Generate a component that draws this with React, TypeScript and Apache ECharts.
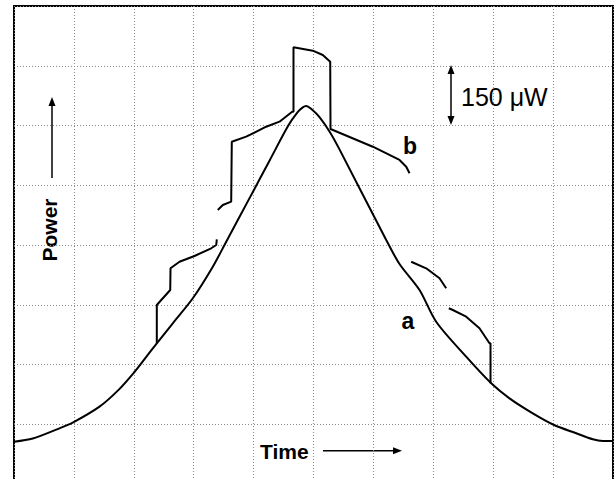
import React, { useEffect, useRef } from "react";
import * as echarts from "echarts";

// Oscilloscope screen: 10 horizontal divisions (time), 8 vertical divisions (power)
const xDivisions = [0, 10];
const yDivisions = [0, 8];

// Trace a (time div, power div)
const traceA: [number, number][] = [
  [0, 0.708], [0.314, 0.761], [0.76, 0.932], [0.98, 1.026], [1.427, 1.294],
  [1.75, 1.58], [2.007, 1.87], [2.179, 2.09], [2.384, 2.355], [2.651, 2.69], [2.985, 3.108],
  [3.319, 3.637], [3.543, 4.055], [3.93, 4.78], [4.27, 5.42], [4.582, 6.003],
  [4.732, 6.22], [4.816, 6.3], [4.878, 6.326], [4.983, 6.259], [5.1, 6.14],
  [5.267, 5.9], [5.434, 5.6], [6.214, 4.084], [6.436, 3.682], [6.77, 3.247],
  [7.048, 2.716], [7.549, 2.131], [7.967, 1.685], [8.272, 1.434], [8.661, 1.183],
  [9.018, 0.987], [9.386, 0.849], [9.663, 0.748], [9.83, 0.72], [10, 0.72],
];

// Trace b, drawn as four separate pieces
const traceB1: [number, number][] = [
  [2.384, 2.355], [2.384, 2.996], [2.608, 3.247], [2.613, 3.247], [2.613, 3.61],
  [2.763, 3.72], [3.013, 3.816], [3.292, 3.945], [3.376, 4.0], [3.386, 4.095],
];
const traceB2: [number, number][] = [
  [3.402, 4.586], [3.486, 4.669], [3.626, 4.725], [3.636, 5.729], [3.876, 5.813],
  [4.21, 5.98], [4.432, 6.064], [4.644, 6.231], [4.666, 6.231], [4.666, 7.309],
  [4.988, 7.252], [5.155, 7.18], [5.279, 7.068], [5.284, 5.941], [5.99, 5.645],
  [6.436, 5.423], [6.548, 5.31], [6.603, 5.2],
];
const traceB3: [number, number][] = [
  [6.631, 3.72], [6.881, 3.61], [7.104, 3.443], [7.215, 3.275],
];
const traceB4: [number, number][] = [
  [7.259, 2.941], [7.326, 2.912], [7.549, 2.8], [7.771, 2.606], [7.938, 2.355],
  [7.955, 2.355], [7.955, 1.685],
];

const FONT = "'Liberation Sans', Arial, Helvetica, sans-serif";

function arrowHead(tipX: number, tipY: number, dir: "up" | "down" | "right") {
  const L = 9;
  const W = 3.5;
  let pts: number[][];
  if (dir === "up") pts = [[tipX, tipY], [tipX - W, tipY + L], [tipX + W, tipY + L]];
  else if (dir === "down") pts = [[tipX, tipY], [tipX - W, tipY - L], [tipX + W, tipY - L]];
  else pts = [[tipX, tipY], [tipX - L, tipY - W], [tipX - L, tipY + W]];
  return { type: "polygon", shape: { points: pts }, style: { fill: "#000" }, silent: true };
}

export default function App() {
  const ref = useRef<HTMLDivElement>(null);

  useEffect(() => {
    if (!ref.current) return;
    const chart = echarts.init(ref.current, undefined, { renderer: "svg" });
    const lineSeries = (name: string, data: [number, number][], smooth: boolean) => ({
      name,
      type: "line",
      data,
      symbol: "none",
      smooth: smooth ? 0.3 : false,
      silent: true,
      lineStyle: { color: "#000", width: 2 },
    });
    const splitLine = {
      show: true,
      lineStyle: { color: "#8a8a8a", width: 1, type: [1, 2] },
    };
    chart.setOption({
      animation: false,
      backgroundColor: "#fff",
      grid: {
        left: 14,
        top: 6,
        width: 599,
        height: 478,
        show: true,
        borderColor: "#000",
        borderWidth: 2,
        backgroundColor: "transparent",
      },
      xAxis: {
        type: "value",
        min: xDivisions[0],
        max: xDivisions[1],
        interval: 1,
        axisLine: { show: false },
        axisTick: { show: false },
        axisLabel: { show: false },
        splitLine,
      },
      yAxis: {
        type: "value",
        min: yDivisions[0],
        max: yDivisions[1],
        interval: 1,
        axisLine: { show: false },
        axisTick: { show: false },
        axisLabel: { show: false },
        splitLine,
      },
      series: [
        lineSeries("a", traceA, true),
        lineSeries("b1", traceB1, false),
        lineSeries("b2", traceB2, false),
        lineSeries("b3", traceB3, false),
        lineSeries("b4", traceB4, false),
      ],
      graphic: [
        {
          type: "text",
          x: 49,
          y: 230,
          rotation: Math.PI / 2,
          style: {
            text: "Power",
            font: `bold 21px ${FONT}`,
            fill: "#000",
            align: "center",
            verticalAlign: "middle",
          },
          silent: true,
        },
        { type: "line", shape: { x1: 52, y1: 178, x2: 52, y2: 104 }, style: { stroke: "#000", lineWidth: 1.5 }, silent: true },
        arrowHead(52, 97, "up"),
        {
          type: "text",
          x: 260,
          y: 451,
          style: {
            text: "Time",
            font: `bold 21px ${FONT}`,
            fill: "#000",
            align: "left",
            verticalAlign: "middle",
          },
          silent: true,
        },
        { type: "line", shape: { x1: 323, y1: 450.7, x2: 395, y2: 450.7 }, style: { stroke: "#000", lineWidth: 1.5 }, silent: true },
        arrowHead(402, 450.7, "right"),
        { type: "line", shape: { x1: 451, y1: 72, x2: 451, y2: 118 }, style: { stroke: "#000", lineWidth: 1.5 }, silent: true },
        arrowHead(451, 65, "up"),
        arrowHead(451, 125, "down"),
        {
          type: "text",
          x: 461,
          y: 97,
          style: {
            text: "150 μW",
            font: `25px ${FONT}`,
            fill: "#000",
            align: "left",
            verticalAlign: "middle",
          },
          silent: true,
        },
        {
          type: "text",
          x: 408,
          y: 321,
          style: {
            text: "a",
            font: `bold 23px ${FONT}`,
            fill: "#000",
            align: "center",
            verticalAlign: "middle",
          },
          silent: true,
        },
        {
          type: "text",
          x: 410,
          y: 146,
          style: {
            text: "b",
            font: `bold 23px ${FONT}`,
            fill: "#000",
            align: "center",
            verticalAlign: "middle",
          },
          silent: true,
        },
      ],
    });
    return () => chart.dispose();
  }, []);

  return (
    <div style={{ position: "fixed", left: 0, top: 0, width: 614, height: 479, overflow: "hidden", background: "#fff" }}>
      <div ref={ref} style={{ width: 614, height: 492 }} />
    </div>
  );
}
